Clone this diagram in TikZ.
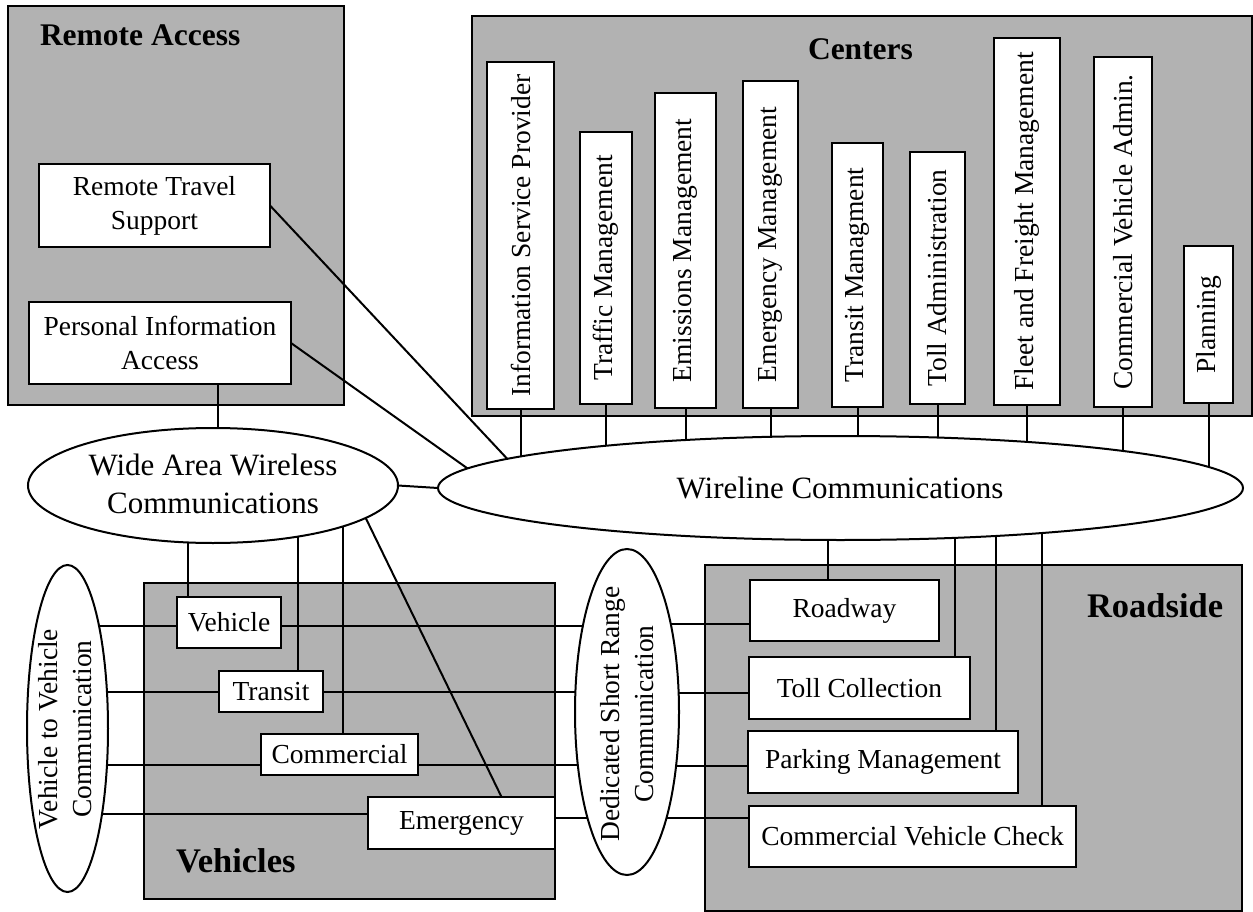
\documentclass[tikz,border=0pt]{standalone}
\usepackage{fontspec}
\setmainfont{Liberation Serif}
\usetikzlibrary{shapes.geometric}
\definecolor{areagray}{RGB}{178,178,178}
\pgfdeclarelayer{back}
\pgfdeclarelayer{wires}
\pgfsetlayers{back,wires,main}
\begin{document}
\begin{tikzpicture}[x=1pt,y=-1pt,
  every node/.style={inner sep=0pt, outer sep=0pt},
  area/.style={draw, fill=areagray, line width=2pt},
  unit/.style={draw, fill=white, line width=2pt, align=center, font=\fontsize{27.5}{34}\selectfont},
  vunit/.style={unit, rotate=90},
  net/.style={draw, fill=white, ellipse, line width=2pt},
  nettext/.style={align=center, font=\fontsize{31}{38}\selectfont},
  vnettext/.style={align=center, rotate=90, font=\fontsize{27.5}{34}\selectfont},
  title/.style={anchor=base west, font=\bfseries\fontsize{31.5}{36}\selectfont},
  bigtitle/.style={anchor=base west, font=\bfseries\fontsize{34.5}{40}\selectfont},
  link/.style={line width=2pt},
]
\useasboundingbox (0,0) rectangle (1253,912);

% grouping areas
\begin{pgfonlayer}{back}
  \node[area, minimum width=336pt, minimum height=399pt] (remote) at (176,205.5) {};
  \node[area, minimum width=780pt, minimum height=400pt] (centers) at (862,216) {};
  \node[area, minimum width=411pt, minimum height=316pt] (vehicles) at (349.5,741) {};
  \node[area, minimum width=537pt, minimum height=346pt] (roadside) at (973.5,738) {};
\end{pgfonlayer}

\node[title] (tremote) at (40,46) {Remote Access};
\node[title] (tcenters) at (808,60) {Centers};
\node[bigtitle] (tveh) at (176,872) {Vehicles};
\node[bigtitle] (troad) at (1087,617) {Roadside};

% remote access
\node[unit, minimum width=231pt, minimum height=83pt] (rts) at (154.5,205.5) {Remote Travel\\Support};
\node[unit, minimum width=262pt, minimum height=82pt] (pia) at (160,343) {Personal Information\\Access};

% centers
\node[vunit, minimum width=347pt, minimum height=67pt] (isp) at (520.5,235.5) {Information Service Provider};
\node[vunit, minimum width=272pt, minimum height=52pt] (tm) at (606,268) {Traffic Management};
\node[vunit, minimum width=315pt, minimum height=61pt] (em) at (685.5,250.5) {Emissions Management};
\node[vunit, minimum width=327pt, minimum height=55pt] (emm) at (770.5,244.5) {Emergency Management};
\node[vunit, minimum width=264pt, minimum height=51pt] (trm) at (857.5,275) {Transit Managment};
\node[vunit, minimum width=252pt, minimum height=55pt] (ta) at (937.5,278) {Toll Administration};
\node[vunit, minimum width=367pt, minimum height=66pt] (ffm) at (1027,221.5) {Fleet and Freight Management};
\node[vunit, minimum width=350pt, minimum height=58pt] (cva) at (1123,232) {Commercial Vehicle Admin.};
\node[vunit, minimum width=157pt, minimum height=49pt] (plan) at (1208.5,324.5) {Planning};

% communication networks
\node[net, minimum width=370pt, minimum height=115pt] (waw) at (213,485.5) {};
\node[nettext] (wawt) at (213,484) {Wide Area Wireless\\Communications};
\node[net, minimum width=805pt, minimum height=104pt] (wire) at (840.5,488) {};
\node[nettext] (wiret) at (840,488) {Wireline Communications};
\node[net, minimum width=81pt, minimum height=327pt] (v2v) at (67.5,728.5) {};
\node[vnettext] (v2vt) at (65,729) {Vehicle to Vehicle\\Communication};
\node[net, minimum width=104pt, minimum height=326pt] (dsrc) at (627,712) {};
\node[vnettext] (dsrct) at (627,714) {Dedicated Short Range\\Communication};

% vehicles
\node[unit, minimum width=104pt, minimum height=51pt] (veh) at (229,622.5) {Vehicle};
\node[unit, minimum width=104pt, minimum height=41pt] (tra) at (271,691.5) {Transit};
\node[unit, minimum width=157pt, minimum height=41pt] (com) at (339.5,754.5) {Commercial};
\node[unit, minimum width=187pt, minimum height=52pt] (emer) at (461.5,823) {Emergency};

% roadside
\node[unit, minimum width=189pt, minimum height=61pt] (road) at (844.5,610.5) {Roadway};
\node[unit, minimum width=221pt, minimum height=62pt] (toll) at (859.5,688) {Toll Collection};
\node[unit, minimum width=270pt, minimum height=62pt] (park) at (883,762) {Parking Management};
\node[unit, minimum width=327pt, minimum height=61pt] (cvc) at (912.5,836.5) {Commercial Vehicle Check};

% attachment points
\coordinate (piaout) at ([xshift=58pt]pia.south);
\coordinate (vehup) at ([xshift=-41pt]veh.north);
\coordinate (traup) at ([xshift=27pt]tra.north);
\coordinate (comup) at ([xshift=3.5pt]com.north);
\coordinate (vehL) at ([yshift=-3.5pt]veh.west);
\coordinate (vehR) at ([yshift=-3.5pt]veh.east);
\coordinate (comL) at ([yshift=-10.5pt]com.west);
\coordinate (comR) at ([yshift=-10.5pt]com.east);
\coordinate (emerL) at ([yshift=9pt]emer.west);
\coordinate (emerR) at ([yshift=5pt]emer.east);
\coordinate (roadL) at ([yshift=-13.5pt]road.west);
\coordinate (tollL) at ([yshift=-5pt]toll.west);
\coordinate (parkL) at ([yshift=-4pt]park.west);
\coordinate (cvcL) at ([yshift=18.5pt]cvc.west);
\coordinate (roadup) at ([xshift=-16.5pt]road.north);
\coordinate (tollup) at ([xshift=95.5pt]toll.north);
\coordinate (parkup) at ([xshift=113pt]park.north);
\coordinate (cvcup) at ([xshift=129.5pt]cvc.north);

\begin{pgfonlayer}{wires}
  % remote access links
  \draw[link] (piaout) -- (piaout |- waw.center);
  \draw[link] (rts.east) -- (wire.175);
  \draw[link] (pia.east) -- (wire.177.3);
  \draw[link] (waw.east) -- (wire.west);
  % centers to wireline
  \foreach \c in {isp,tm,em,emm,trm,ta,ffm,cva,plan}
    \draw[link] (\c.west) -- (\c.west |- wire.center);
  % wireline to roadside
  \foreach \c in {roadup,tollup,parkup,cvcup}
    \draw[link] (\c) -- (\c |- wire.center);
  % wide area wireless to vehicles
  \foreach \c in {vehup,traup,comup}
    \draw[link] (\c) -- (\c |- waw.center);
  \draw[link] (waw.-12) -- (emer.33.4);
  % vehicle to vehicle
  \draw[link] (vehL) -- (vehL -| v2v.center);
  \draw[link] (tra.west) -- (tra.west -| v2v.center);
  \draw[link] (comL) -- (comL -| v2v.center);
  \draw[link] (emerL) -- (emerL -| v2v.center);
  % vehicles to short range
  \draw[link] (vehR) -- (vehR -| dsrc.center);
  \draw[link] (tra.east) -- (tra.east -| dsrc.center);
  \draw[link] (comR) -- (comR -| dsrc.center);
  \draw[link] (emerR) -- (emerR -| dsrc.center);
  % short range to roadside
  \foreach \c in {roadL,tollL,parkL,cvcL}
    \draw[link] (\c) -- (\c -| dsrc.center);
\end{pgfonlayer}
\end{tikzpicture}
\end{document}
